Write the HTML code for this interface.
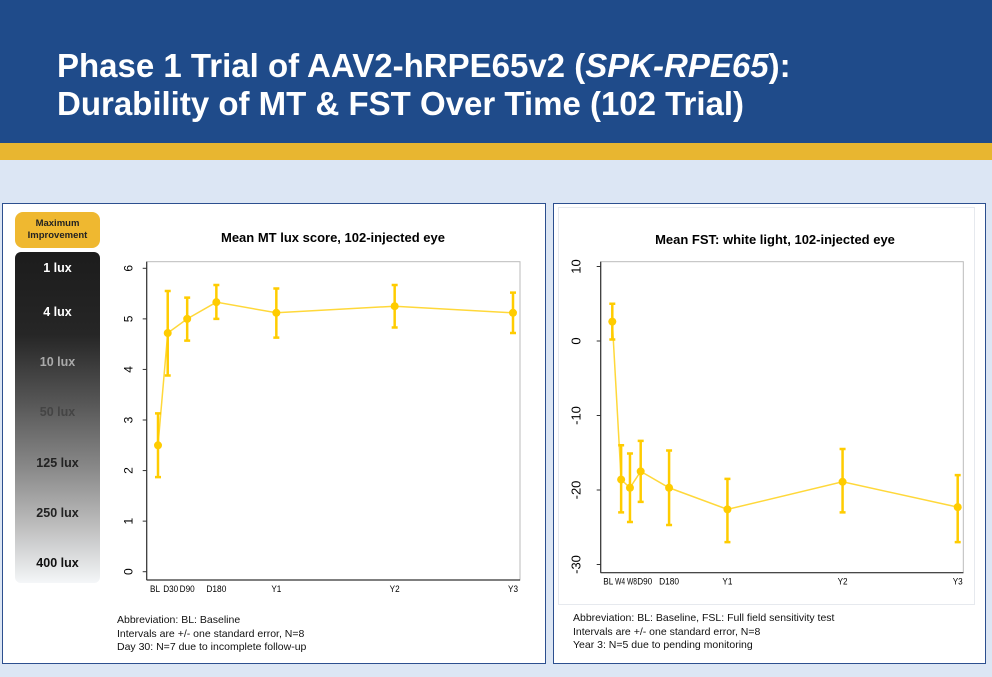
<!DOCTYPE html>
<html><head><meta charset="utf-8"><style>
body{margin:0;width:992px;height:677px;overflow:hidden;background:#dce6f4;font-family:"Liberation Sans",sans-serif;position:relative}
.abs{position:absolute}
#hdr{left:0;top:0;width:992px;height:143px;background:#1f4b8a}
#hdr h1{position:absolute;left:57px;top:47px;margin:0;color:#fff;font-size:33px;line-height:38px;font-weight:bold;white-space:nowrap}
#stripe{left:0;top:143px;width:992px;height:17px;background:#e8b630}
.panel{background:#fff;border:1px solid #2c4f8f}
.note{font-size:10.5px;line-height:13.5px;color:#111}
.lux{position:absolute;left:0;width:85px;text-align:center;font-weight:bold;font-size:12.5px}
</style></head><body>
<div id="hdr" class="abs"><h1>Phase 1 Trial of AAV2-hRPE65v2 (<i>SPK-RPE65</i>):<br>Durability of MT &amp; FST Over Time (102 Trial)</h1></div>
<div id="stripe" class="abs"></div>

<div class="abs panel" style="left:2px;top:203px;width:542px;height:459px"></div>
<div class="abs panel" style="left:553px;top:203px;width:431px;height:459px"></div>
<div class="abs" style="left:558px;top:207px;width:415px;height:396px;border:1px solid #e6e9ee"></div>

<div class="abs" style="left:15px;top:212px;width:85px;height:36px;background:#efb830;border-radius:8px;font-size:9.5px;font-weight:bold;text-align:center;line-height:12px;padding-top:6px;box-sizing:border-box;color:#222">Maximum<br>Improvement</div>
<div class="abs" style="left:15px;top:252px;width:85px;height:331px;border-radius:6px;background:linear-gradient(#1c1c1c 0%,#262626 25%,#555 45%,#888 65%,#bbb 82%,#f4f6f8 100%)">
<div class="lux" style="top:9px;color:#fff">1 lux</div>
<div class="lux" style="top:53px;color:#fff">4 lux</div>
<div class="lux" style="top:103px;color:#aaa">10 lux</div>
<div class="lux" style="top:153px;color:#444">50 lux</div>
<div class="lux" style="top:204px;color:#222">125 lux</div>
<div class="lux" style="top:254px;color:#222">250 lux</div>
<div class="lux" style="top:304px;color:#111">400 lux</div>
</div>

<div class="abs note" style="left:117px;top:614px">Abbreviation: BL: Baseline<br>Intervals are +/- one standard error, N=8<br>Day 30: N=7 due to incomplete follow-up</div>
<div class="abs note" style="left:573px;top:612px">Abbreviation: BL: Baseline, FSL: Full field sensitivity test<br>Intervals are +/- one standard error, N=8<br>Year 3: N=5 due to pending monitoring</div>

<svg class="abs" style="left:0;top:0" width="992" height="677">
<g id="c1"></g><g id="c2"></g>
</svg>
<script>
const mtDays=[0,30,90,180,365,730,1095];
const mtLabels=["BL","D30","D90","D180","Y1","Y2","Y3"];
const mtMean=[2.5,4.72,5.0,5.33,5.12,5.25,5.12];
const mtLo=[1.87,3.88,4.57,5.0,4.63,4.83,4.72];
const mtHi=[3.13,5.55,5.42,5.67,5.6,5.67,5.52];
const mtTicks=[0,1,2,3,4,5,6];
const fstDays=[0,28,56,90,180,365,730,1095];
const fstLabels=["BL","W4","W8","D90","D180","Y1","Y2","Y3"];
const fstMean=[2.6,-18.6,-19.7,-17.5,-19.7,-22.6,-18.9,-22.3];
const fstLo=[0.2,-23.0,-24.3,-21.6,-24.7,-27.0,-23.0,-27.0];
const fstHi=[5.0,-14.0,-15.1,-13.4,-14.7,-18.5,-14.5,-18.0];
const fstTicks=[-30,-20,-10,0,10];
const NS="http://www.w3.org/2000/svg";
function el(g,t,a,txt){const e=document.createElementNS(NS,t);for(const k in a)e.setAttribute(k,a[k]);if(txt!==undefined)e.textContent=txt;g.appendChild(e);return e;}
function chart(g,o){
 const xs=d=>o.x0+(d-o.d0)/(o.d1-o.d0)*(o.x1-o.x0);
 const ys=v=>o.y0+(v-o.v0)/(o.v1-o.v0)*(o.y1-o.y0);
 const t=el(g,'text',{x:o.tx,y:o.ty,'text-anchor':'middle','font-size':13,'font-weight':'bold','font-family':'Liberation Sans'},o.title);
 
 
 el(g,'rect',{x:o.fx0,y:o.fy0,width:o.fx1-o.fx0,height:o.fy1-o.fy0,fill:'none',stroke:'#bbb','stroke-width':1});
 el(g,'line',{x1:o.fx0,y1:o.fy0,x2:o.fx0,y2:o.fy1,stroke:'#333','stroke-width':1.2});
 el(g,'line',{x1:o.fx0,y1:o.fy1,x2:o.fx1,y2:o.fy1,stroke:'#333','stroke-width':1.2});
 o.ticks.forEach(v=>{const y=ys(v);
  el(g,'line',{x1:o.fx0-4,y1:y,x2:o.fx0,y2:y,stroke:'#333'});
  const l=el(g,'text',{x:0,y:0,transform:`translate(${o.fx0-o.lo},${y}) rotate(-90)`,'text-anchor':'middle','font-size':o.tfs,'font-family':'Liberation Sans'},String(v));
  
  
 });
 o.days.forEach((d,i)=>{
  const l=el(g,'text',{x:xs(d)+(o.dx?o.dx[i]:0),y:o.fy1+12,'text-anchor':'middle','font-size':9,'font-family':'Liberation Sans',textLength:o.labels[i].length*5,lengthAdjust:'spacingAndGlyphs'},o.labels[i]);
  
  
 });
 const pts=o.days.map((d,i)=>xs(d)+','+ys(o.mean[i])).join(' ');
 const pl=el(g,'polyline',{points:pts,fill:'none',stroke:'#ffd83a','stroke-width':1.5});
 
 
 o.days.forEach((d,i)=>{const x=xs(d);
  const eb=el(g,'path',{d:`M${x},${ys(o.lo_[i])}V${ys(o.hi[i])}M${x-3},${ys(o.lo_[i])}h6M${x-3},${ys(o.hi[i])}h6`,stroke:'#ffcc00','stroke-width':2.5,fill:'none'});
  
  
  const c=el(g,'circle',{cx:x,cy:ys(o.mean[i]),r:4,fill:'#ffcc00'});
  
  
 });
}
chart(document.getElementById('c1'),{x0:158,x1:513,d0:0,d1:1095,y0:571.7,y1:268.3,v0:0,v1:6,
 fx0:146.7,fx1:520,fy0:261.7,fy1:580,tx:333,ty:242,title:'Mean MT lux score, 102-injected eye',
 ticks:mtTicks,lo:14,tfs:12,days:mtDays,labels:mtLabels,mean:mtMean,lo_:mtLo,hi:mtHi,dx:[-3,3,0,0,0,0,0]});
chart(document.getElementById('c2'),{x0:612.3,x1:957.7,d0:0,d1:1095,y0:341,y1:490,v0:0,v1:-20,
 fx0:600.7,fx1:963.3,fy0:261.7,fy1:572.7,tx:775,ty:244,title:'Mean FST: white light, 102-injected eye',
 ticks:fstTicks,lo:20,tfs:13,days:fstDays,labels:fstLabels,mean:fstMean,lo_:fstLo,hi:fstHi,dx:[-4,-1,2,4,0,0,0,0]});
</script>
</body></html>
